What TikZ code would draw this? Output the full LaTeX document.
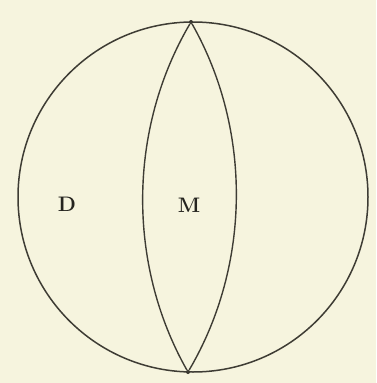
\documentclass[tikz,border=0pt]{standalone}
\usepackage{fontspec}
\setmainfont{Latin Modern Roman}
\usepackage{tikz}
\usetikzlibrary{positioning}
\definecolor{paper}{RGB}{246,244,222}
\definecolor{ink}{RGB}{62,60,52}

\begin{document}
\begin{tikzpicture}[
  x=1pt, y=-1pt,
  rim/.style={draw=ink, line width=1.5pt},
  seam/.style={draw=ink, line width=1.4pt},
  pole/.style={circle, fill=ink!80!black, inner sep=0pt, minimum size=4pt},
  region/.style={font=\fontsize{21}{21}\selectfont\bfseries, text=ink!60!black},
  bend angle=30
]
\fill[paper] (0,0) rectangle (376,383);
\useasboundingbox (0,0) rectangle (376,383);

\coordinate (c) at (193,197);
\node[pole] (top) at (191,22) {};
\node[pole] (bot) at (188,372) {};

\draw[rim] (c) circle[radius=175];
\draw[seam] (top) to[bend right, looseness=0.9] (bot);
\draw[seam] (top) to[bend left, looseness=0.9] (bot);

\node[region] (d) at (67,204) {D};
\node[region] (m) at (189,205) {M};
\end{tikzpicture}
\end{document}
